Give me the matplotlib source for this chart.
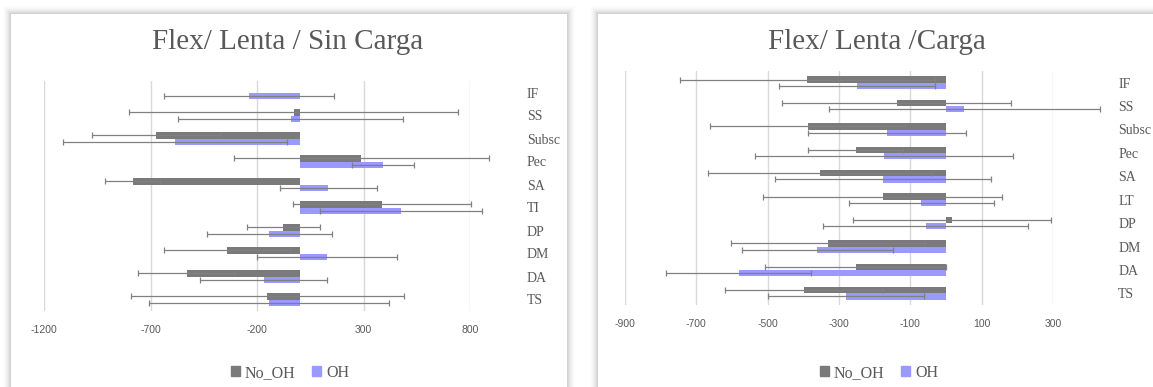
import numpy as np
import matplotlib.pyplot as plt
from matplotlib.patches import Rectangle, Patch

plt.rcParams["axes.unicode_minus"] = False

# Datos
categorias_1 = ["IF", "SS", "Subsc", "Pec", "SA", "TI", "DP", "DM", "DA", "TS"]
no_oh_1 = [0, -28, -672, 290, -784, 385, -77, -341, -529, -151]
no_oh_1_err = [0, 772, 301, 597, 130, 418, 172, 294, 228, 640]
oh_1 = [-236, -41, -585, 391, 134, 474, -143, 130, -168, -145]
oh_1_err = [399, 528, 524, 144, 228, 380, 294, 328, 298, 563]

categorias_2 = ["IF", "SS", "Subsc", "Pec", "SA", "LT", "DP", "DM", "DA", "TS"]
no_oh_2 = [-389, -138, -388, -253, -354, -177, 17, -330, -253, -398]
no_oh_2_err = [358, 321, 273, 133, 314, 335, 278, 272, 254, 221]
oh_2 = [-250, 51, -165, -173, -177, -69, -57, -361, -581, -281]
oh_2_err = [218, 380, 222, 362, 302, 204, 288, 211, 203, 218]

GRIS = "#7a7a7a"
AZUL = "#9999ff"
TEXTO = "#595959"

W, H = 1153, 387
fig = plt.figure(figsize=(W / 100, H / 100), dpi=100)
fig.patch.set_facecolor("white")


def px(x0, y0, x1, y1):
    # caja en pixeles -> fraccion de figura
    return [x0 / W, 1 - y1 / H, (x1 - x0) / W, (y1 - y0) / H]


# tarjetas con sombra
for (x0, x1) in [(11, 567), (598, 1160)]:
    for k, a in zip(range(8, 0, -1), [0.008, 0.01, 0.015, 0.02, 0.025, 0.03, 0.035, 0.04]):
        fig.patches.append(Rectangle(((x0 - k) / W, 0), (x1 - x0 + 2 * k) / W, 1 - (14 - k) / H,
                                     transform=fig.transFigure, facecolor="black",
                                     alpha=a, edgecolor="none", zorder=0))
    fig.patches.append(Rectangle((x0 / W, 0), (x1 - x0) / W, 1 - 14 / H,
                                 transform=fig.transFigure, facecolor="white",
                                 edgecolor="none", zorder=1))


def grafico(caja, cats, a, a_err, b, b_err, xmin, xmax, paso, titulo, tx, pad):
    ax = fig.add_axes(px(*caja))
    ax.set_zorder(2)
    ax.patch.set_alpha(0)
    y = np.arange(len(cats))
    h = 0.27
    ek = dict(ecolor="#808080", elinewidth=0.9, capsize=2, capthick=0.9, clip_on=False,
              fmt="none", zorder=4)
    for pos, vals, errs, col, lab in [(y - h / 2, a, a_err, GRIS, "No_OH"),
                                      (y + h / 2, b, b_err, AZUL, "OH")]:
        vals = np.array(vals, dtype=float)
        errs = np.array(errs, dtype=float)
        ax.barh(pos, vals, height=h, color=col, label=lab, zorder=3)
        m = errs > 0
        ax.errorbar(vals[m], pos[m], xerr=errs[m], **ek)
    ax.set_ylim(len(cats) - 0.5, -0.5)
    ax.set_xlim(xmin, xmax)
    ax.set_xticks(np.arange(xmin, xmax + 1, paso))
    ax.grid(axis="x", color="#d9d9d9", linewidth=1, zorder=0)
    ax.set_axisbelow(True)
    ax.set_yticks(y)
    ax.set_yticklabels(cats, fontfamily="Liberation Serif", fontsize=10, color=TEXTO)
    ax.yaxis.tick_right()
    ax.tick_params(axis="y", length=0, pad=pad)
    ax.tick_params(axis="x", length=0, pad=10, labelsize=7.5, labelcolor=TEXTO)
    for t in ax.get_xticklabels():
        t.set_fontfamily("Liberation Sans")
    for s in ax.spines.values():
        s.set_visible(False)
    fig.text(tx / W, 1 - 42 / H, titulo, ha="center", va="center",
             fontfamily="Liberation Serif", fontsize=21, color=TEXTO)
    ax.legend(handles=[Patch(color=GRIS, label="No_OH"), Patch(color=AZUL, label="OH")],
              loc="center", bbox_to_anchor=((tx + 2) / W, 1 - 373 / H),
              bbox_transform=fig.transFigure, ncol=2, frameon=False,
              handlelength=0.6, handleheight=0.6, handletextpad=0.3, columnspacing=1.0,
              prop={"family": "Liberation Serif", "size": 11.5}, labelcolor=TEXTO)
    return ax


grafico((44, 81, 470, 311), categorias_1, no_oh_1, no_oh_1_err, oh_1, oh_1_err,
        -1200, 800, 500, "Flex/ Lenta / Sin Carga", 288, 41)
grafico((625, 71, 1053, 305), categorias_2, no_oh_2, no_oh_2_err, oh_2, oh_2_err,
        -900, 300, 200, "Flex/ Lenta /Carga", 877, 47)

fig.savefig("out.png", dpi=100)
